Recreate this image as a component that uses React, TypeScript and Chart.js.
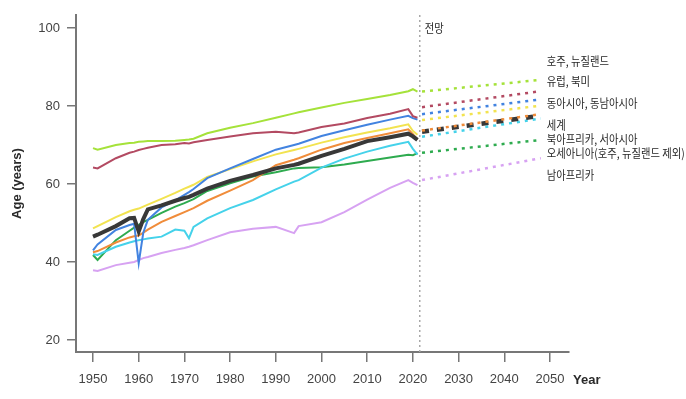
import React, { useEffect, useRef } from "react";
import { Chart, registerables } from "chart.js";

Chart.register(...registerables);

// ---------- data ----------
const years = [1950, 1951, 1955, 1958, 1959, 1960, 1961, 1962, 1965, 1968, 1970, 1971, 1972, 1975, 1980, 1985, 1990, 1994, 1995, 2000, 2005, 2010, 2015, 2019, 2020, 2021];
const projYears = [2022, 2048];

const ausNz = [69.2, 68.8, 70.0, 70.5, 70.6, 70.8, 70.9, 71.0, 71.0, 71.1, 71.3, 71.4, 71.6, 73.0, 74.4, 75.6, 77.0, 78.1, 78.4, 79.6, 80.8, 81.8, 82.8, 83.8, 84.3, 83.7];
const europeNA = [64.2, 64.0, 66.6, 68.0, 68.3, 68.7, 69.0, 69.3, 70.0, 70.2, 70.5, 70.4, 70.7, 71.3, 72.2, 73.0, 73.4, 73.0, 73.2, 74.6, 75.5, 76.9, 78.0, 79.2, 77.4, 77.0];
const eastAsia = [43.0, 44.5, 48.2, 49.5, 49.8, 39.7, 47.5, 50.8, 54.0, 55.8, 57.2, 57.9, 58.7, 61.5, 64.0, 66.4, 68.8, 70.0, 70.3, 72.3, 73.8, 75.2, 76.5, 77.5, 76.9, 76.5];
const latinAm = [48.6, 49.2, 51.5, 53.0, 53.4, 53.7, 54.2, 54.7, 56.2, 57.7, 58.8, 59.3, 59.8, 61.8, 63.8, 65.8, 67.6, 68.7, 69.0, 70.6, 72.0, 73.2, 74.3, 75.3, 73.6, 72.6];
const world = [46.5, 47.0, 49.2, 51.2, 51.3, 47.8, 51.0, 53.5, 54.5, 55.7, 56.4, 56.7, 57.2, 58.8, 60.8, 62.3, 64.0, 64.9, 65.2, 67.2, 69.0, 71.0, 72.0, 72.9, 72.2, 71.3];
const southAsia = [42.5, 42.8, 45.0, 46.3, 46.6, 46.8, 47.5, 48.3, 50.3, 51.8, 52.8, 53.3, 53.8, 55.7, 58.3, 61.0, 64.8, 66.2, 66.6, 68.8, 70.5, 71.8, 73.0, 74.0, 72.8, 71.4];
const nAfricaWAsia = [42.0, 41.8, 43.9, 45.0, 45.3, 45.6, 45.8, 46.0, 46.5, 48.3, 48.0, 46.1, 49.0, 51.2, 53.8, 55.9, 58.6, 60.6, 61.0, 64.2, 66.5, 68.3, 69.8, 70.8, 69.0, 67.5];
const oceania = [41.8, 40.5, 45.6, 48.0, 48.8, 49.5, 50.2, 50.8, 52.6, 54.2, 55.1, 55.6, 56.1, 58.2, 60.2, 61.9, 63.0, 64.0, 64.1, 64.3, 65.0, 65.9, 66.8, 67.5, 67.4, 67.9];
const subSahara = [37.9, 37.7, 39.2, 39.8, 40.0, 40.5, 41.0, 41.3, 42.3, 43.1, 43.6, 43.9, 44.3, 45.6, 47.6, 48.5, 49.0, 47.4, 49.2, 50.2, 52.8, 56.0, 59.0, 61.0, 60.3, 59.7];

const projAusNz = [83.7, 86.7];
const projEuropeNA = [79.7, 83.8];
const projEastAsia = [77.9, 81.7];
const projLatinAm = [76.4, 80.1];
const projWorld = [73.4, 77.5];
const projSouthAsia = [73.7, 77.9];
const projNAfricaWAsia = [72.1, 76.8];
const projOceania = [68.0, 71.3];
const projSubSahara = [61.0, 66.6];

const xTicks = [1950, 1960, 1970, 1980, 1990, 2000, 2010, 2020, 2030, 2040, 2050];
const yTicks = [20, 40, 60, 80, 100];
const forecastStart = 2021.5;

const labelTexts = ["호주, 뉴질랜드", "유럽, 북미", "동아시아, 동남아시아", "세계", "북아프리카, 서아시아", "오세아니아(호주, 뉴질랜드 제외)", "남아프리카"];
const labelValues = [91.36, 86.2, 80.7, 75.1, 71.3, 67.9, 62.3];

// ---------- helpers ----------
const pts = (xs: number[], ys: number[]) => xs.map((x, i) => ({ x, y: ys[i] }));

type S = { name: string; color: string; hist: number[]; proj: number[]; width: number; order: number; dash?: number[]; projWidth?: number; projOrder: number };

const series: S[] = [
  { name: "호주, 뉴질랜드", color: "#a5e23a", hist: ausNz, proj: projAusNz, width: 2, order: 2, projOrder: 2 },
  { name: "유럽, 북미", color: "#b34a62", hist: europeNA, proj: projEuropeNA, width: 2, order: 3, projOrder: 3 },
  { name: "동아시아, 동남아시아", color: "#4283e0", hist: eastAsia, proj: projEastAsia, width: 2, order: 4, projOrder: 4 },
  { name: "라틴아메리카, 카리브", color: "#f2e350", hist: latinAm, proj: projLatinAm, width: 2, order: 5, projOrder: 5 },
  { name: "세계", color: "#383838", hist: world, proj: projWorld, width: 4, order: 1, dash: [7, 8], projWidth: 4.5, projOrder: 1 },
  { name: "중앙아시아, 남아시아", color: "#f08c3a", hist: southAsia, proj: projSouthAsia, width: 2, order: 6, projOrder: 0 },
  { name: "북아프리카, 서아시아", color: "#45d2ea", hist: nAfricaWAsia, proj: projNAfricaWAsia, width: 2, order: 7, projOrder: 7 },
  { name: "오세아니아(호주, 뉴질랜드 제외)", color: "#2eab4f", hist: oceania, proj: projOceania, width: 2, order: 8, projOrder: 8 },
  { name: "남아프리카", color: "#d7a2f2", hist: subSahara, proj: projSubSahara, width: 2, order: 9, projOrder: 9 },
];

const drawCondensed = (ctx: CanvasRenderingContext2D, text: string, x: number, y: number, sx: number) => {
  ctx.save();
  ctx.translate(x, y);
  ctx.scale(sx, 1);
  ctx.fillText(text, 0, 0);
  ctx.restore();
};

const overlayPlugin = {
  id: "overlay",
  beforeDatasetsDraw(chart: any) {
    const { ctx, chartArea, scales } = chart;
    const px = scales.x.getPixelForValue(forecastStart);
    ctx.save();
    ctx.strokeStyle = "#a8a8a8";
    ctx.lineWidth = 1.5;
    ctx.setLineDash([2, 3]);
    ctx.beginPath();
    ctx.moveTo(px, chartArea.top);
    ctx.lineTo(px, chartArea.bottom);
    ctx.stroke();
    ctx.restore();
  },
  afterDraw(chart: any) {
    const { ctx, chartArea, scales } = chart;
    const xs = scales.x;
    const ys = scales.y;
    ctx.save();
    ctx.fillStyle = "#262626";
    ctx.textBaseline = "middle";
    ctx.textAlign = "left";
    ctx.font = '12px "Noto Sans CJK KR"';
    // forecast label
    drawCondensed(ctx, "전망", xs.getPixelForValue(forecastStart) + 5, ys.getPixelForValue(100), 0.86);
    // series labels
    const lx = xs.getPixelForValue(2049.3);
    labelTexts.forEach((t, i) => {
      drawCondensed(ctx, t, lx, ys.getPixelForValue(labelValues[i]), 0.86);
    });
    // axis titles
    ctx.font = 'bold 13px "Liberation Sans", Arial, sans-serif';
    ctx.fillStyle = "#2a2a2a";
    ctx.fillText("Year", chartArea.right + 4, chartArea.bottom + 28);
    ctx.translate(17, (chartArea.top + chartArea.bottom) / 2);
    ctx.rotate(-Math.PI / 2);
    ctx.textAlign = "center";
    ctx.fillText("Age (years)", 0, 0);
    ctx.restore();
  },
};

export default function App() {
  const ref = useRef<HTMLCanvasElement>(null);

  useEffect(() => {
    if (!ref.current) return;
    const datasets: any[] = [];
    series.forEach((s) => {
      datasets.push({
        label: s.name,
        data: pts(years, s.hist),
        borderColor: s.color,
        backgroundColor: s.color,
        borderWidth: s.width,
        pointRadius: 0,
        tension: 0,
        fill: false,
        order: s.order,
      });
    });
    series.forEach((s) => {
      datasets.push({
        label: s.name + " (전망)",
        data: pts(projYears, s.proj),
        borderColor: s.color,
        backgroundColor: s.color,
        borderWidth: s.projWidth ?? 2.5,
        borderDash: s.dash ?? [3, 5],
        pointRadius: 0,
        tension: 0,
        fill: false,
        order: s.projOrder,
      });
    });

    const tickFont = { family: '"Liberation Sans", Arial, sans-serif', size: 13 };
    const chart = new Chart(ref.current, {
      type: "line",
      data: { datasets },
      options: {
        animation: false,
        responsive: false,
        devicePixelRatio: 1,
        layout: { padding: { top: 15, right: 117, bottom: 0, left: 0 } },
        plugins: { legend: { display: false }, tooltip: { enabled: false } },
        scales: {
          x: {
            type: "linear",
            min: 1946.28,
            max: 2054.16,
            grid: { display: true, drawOnChartArea: false, drawTicks: true, tickLength: 10, color: "#777", lineWidth: 1.5 },
            border: { display: true, color: "#777", width: 2 },
            ticks: { font: tickFont, color: "#444", padding: 10, maxRotation: 0, autoSkip: false, callback: (v: any) => String(v) },
            afterBuildTicks: (s: any) => {
              s.ticks = xTicks.map((v) => ({ value: v }));
            },
            afterFit: (s: any) => {
              s.height = 47;
            },
          },
          y: {
            type: "linear",
            min: 16.92,
            max: 103.33,
            grid: { display: true, drawOnChartArea: false, drawTicks: true, tickLength: 9, color: "#777", lineWidth: 1.5 },
            border: { display: true, color: "#777", width: 2 },
            ticks: { font: tickFont, color: "#444", padding: 7, autoSkip: false, callback: (v: any) => String(v) },
            afterBuildTicks: (s: any) => {
              s.ticks = yTicks.map((v) => ({ value: v }));
            },
            afterFit: (s: any) => {
              s.width = 76;
            },
          },
        },
      },
      plugins: [overlayPlugin],
    } as any);
    return () => chart.destroy();
  }, []);

  return (
    <div style={{ position: "fixed", left: 0, top: 0, width: 686, height: 399, background: "#fff" }}>
      <canvas ref={ref} width={686} height={399} style={{ width: 686, height: 399, display: "block" }} />
    </div>
  );
}
